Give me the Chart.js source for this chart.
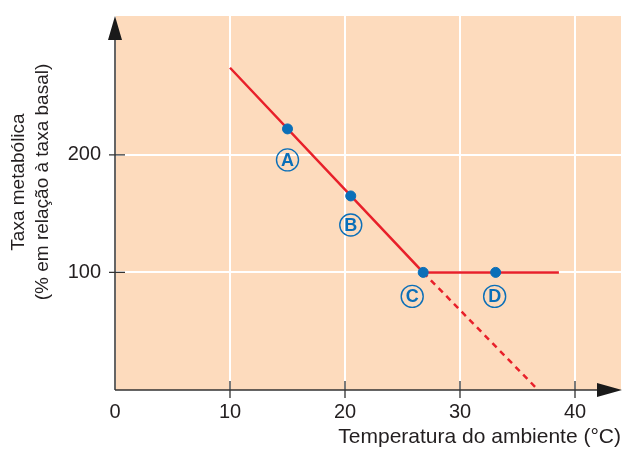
<!DOCTYPE html>
<html>
<head>
<meta charset="utf-8">
<script src="https://cdn.jsdelivr.net/npm/chart.js@4/dist/chart.umd.min.js"></script>
<style>
	html, body { margin:0; padding:0; background:#fff; }
	#wrap { position:relative; width:622px; height:449px; }
</style>
</head>
<body>
<div id="wrap"><canvas id="c"></canvas></div>
<script>
// dados ====================================================================================
const xTicks = [0, 10, 20, 30, 40]
const yTicks = [100, 200]
const linhaX = [10, 26.8, 38.6]
const linhaY = [274, 100, 100]
const tracX = [26.8, 36.7]
const tracY = [100, 1]
const pontos = ['A', 'B', 'C', 'D']
const pontosX = [15, 20.5, 26.8, 33.1]
const pontosY = [222, 165, 100, 100]
const xTitle = 'Temperatura do ambiente (°C)'
const yTitle = ['Taxa metabólica', '(% em relação à taxa basal)']

const FONT = "'Liberation Sans', Arial, sans-serif"
const INK = '#231f20'
const RED = '#e8202a'
const BLUE = '#0b6fb8'

const xy = (xs, ys) => xs.map((x, i) => ({x:x, y:ys[i]}))

// desenho extra: fundo, eixos com setas, titulos, letras ======================================
const extras = {
	id: 'extras',
	beforeDraw: c => {
		const a = c.chartArea, g = c.ctx
		g.save()
		g.fillStyle = '#fddbbd'
		g.fillRect(a.left, a.top, a.right - a.left, a.bottom - a.top)
		g.restore()
	},
	afterDraw: (c, _, o) => {
		const a = c.chartArea, g = c.ctx, sx = c.scales.x, sy = c.scales.y
		g.save()
		g.strokeStyle = '#333'
		g.fillStyle = '#1a1a1a'
		g.lineWidth = 1.5
		// eixos
		g.beginPath()
		g.moveTo(a.left, a.bottom); g.lineTo(a.left, a.top + 10)
		g.moveTo(a.left, a.bottom); g.lineTo(c.width - 10, a.bottom)
		g.stroke()
		// ticks cruzando os eixos
		g.lineWidth = 1.3
		g.beginPath()
		yTicks.forEach(v => { const y = sy.getPixelForValue(v); g.moveTo(a.left - 6, y); g.lineTo(a.left + 10, y) })
		xTicks.filter(v => v > 0).forEach(v => { const x = sx.getPixelForValue(v); g.moveTo(x, a.bottom - 9); g.lineTo(x, a.bottom + 8) })
		g.stroke()
		// setas
		g.beginPath()
		g.moveTo(a.left, a.top); g.lineTo(a.left - 7, a.top + 24); g.lineTo(a.left + 7, a.top + 24); g.closePath()
		g.moveTo(c.width, a.bottom); g.lineTo(c.width - 25, a.bottom - 7); g.lineTo(c.width - 25, a.bottom + 7); g.closePath()
		g.fill()
		// titulos
		g.fillStyle = INK
		g.textBaseline = 'middle'
		g.textAlign = 'right'
		g.font = '21px ' + FONT
		g.fillText(xTitle, 621, 437)
		g.font = '19px ' + FONT
		g.translate(0, 182)
		g.rotate(-Math.PI / 2)
		g.textAlign = 'center'
		g.fillText(yTitle[0], 0, 19)
		g.fillText(yTitle[1], 0, 43)
		g.restore()
		// letras circuladas
		g.save()
		g.strokeStyle = BLUE
		g.fillStyle = BLUE
		g.lineWidth = 1.4
		g.font = 'bold 18px ' + FONT
		g.textAlign = 'center'
		g.textBaseline = 'middle'
		pontos.forEach((t, i) => {
			const x = sx.getPixelForValue(pontosX[i]) + o.off[i][0]
			const y = sy.getPixelForValue(pontosY[i]) + o.off[i][1]
			g.beginPath(); g.arc(x, y, 11, 0, Math.PI * 2); g.stroke()
			g.fillText(t, x, y + 1)
		})
		g.restore()
	}
}

const tk = vals => s => { s.ticks = vals.map(v => ({value:v})) }

new Chart(document.getElementById('c'), {
	type: 'scatter',
	data: {
		datasets: [
			{
				data: xy(pontosX, pontosY),
				backgroundColor: BLUE,
				borderColor: BLUE,
				pointRadius: 5,
				order: 0,
			},
			{
				data: xy(linhaX, linhaY),
				showLine: true,
				borderColor: RED,
				borderWidth: 2.5,
				pointRadius: 0,
				order: 1,
			},
			{
				data: xy(tracX, tracY),
				showLine: true,
				borderColor: RED,
				borderWidth: 2.5,
				borderDash: [6, 5],
				pointRadius: 0,
				order: 1,
			},
		]
	},
	options: {
		responsive: true,
		maintainAspectRatio: false,
		animation: false,
		events: [],
		layout: { autoPadding: false, padding: { top:16, right:1, left:0, bottom:0 } },
		plugins: {
			legend: { display:false },
			tooltip: { enabled:false },
			extras: { off: [[0, 31], [0, 29], [-11, 24], [-1, 24]] },
		},
		scales: {
			x: {
				type: 'linear',
				min: 0, max: 44,
				afterBuildTicks: tk(xTicks),
				afterFit: s => { s.height = 59; s.paddingLeft = 0; s.paddingRight = 0 },
				border: { display:false },
				grid: { color:'#fff', lineWidth:2, drawTicks:false },
				ticks: { padding:10, color:INK, font:{ family:FONT, size:20 }, maxRotation:0, autoSkip:false },
			},
			y: {
				min: 0, max: 318,
				afterBuildTicks: tk(yTicks),
				afterFit: s => { s.width = 115; s.paddingTop = 0; s.paddingBottom = 0 },
				border: { display:false },
				grid: { color:'#fff', lineWidth:2, drawTicks:false },
				ticks: { padding:14, color:INK, font:{ family:FONT, size:20 } },
			},
		},
	},
	plugins: [extras]
})
</script>
</body>
</html>
